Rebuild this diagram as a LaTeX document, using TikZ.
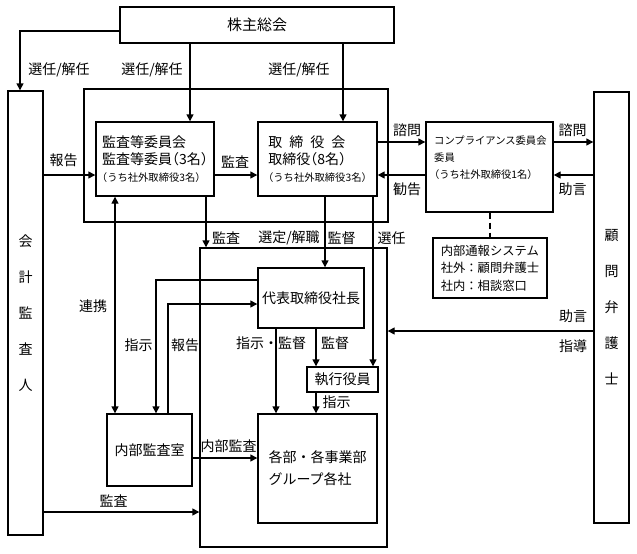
\documentclass[tikz,border=0pt]{standalone}
\usepackage{fontspec}
\setmainfont{Noto Sans CJK JP}
\newfontfamily\jph{Noto Sans CJK JP}[RawFeature=+halt]
\usetikzlibrary{arrows.meta}
\begin{document}
\begin{tikzpicture}[x=1pt,y=-1pt,
  every node/.style={font=\fontsize{14}{17}\selectfont},
  box/.style={draw,line width=1.4pt,inner sep=0pt},
  arr/.style={line width=1.4pt,-{Triangle[length=7pt,width=7pt]}},
  darr/.style={line width=1.4pt,{Triangle[length=7pt,width=7pt]}-{Triangle[length=7pt,width=7pt]}},
  ln/.style={line width=1.4pt},
  lbl/.style={inner sep=0pt},
  small/.style={font=\fontsize{10.3}{17}\selectfont}
]
\useasboundingbox (0,0) rectangle (637,554);

% boxes
\node[box,minimum width=274pt,minimum height=36pt,font=\fontsize{15}{17}\selectfont] (sh) at (257,25) {株主総会};
\node[box,minimum width=35pt,minimum height=444pt,align=center,font=\fontsize{14}{36}\selectfont] (aud) at (25.5,313) {会\\計\\監\\査\\人};
\node[box,minimum width=35pt,minimum height=431pt,align=center,font=\fontsize{14}{36}\selectfont] (law) at (611.5,307.5) {顧\\問\\弁\\護\\士};
\node[box,minimum width=304pt,minimum height=133pt] (bd) at (236,155.5) {};
\node[box,minimum width=118pt,minimum height=74pt,align=left] (ac) at (155,159)
  {監査等委員会\\監査等委員{\jph（3名）}\\{\fontsize{10.3}{17}\selectfont\jph（うち社外取締役3名）}};
\node[box,minimum width=119pt,minimum height=74pt,align=left] (bod) at (317.5,159)
  {取\hspace{7pt}締\hspace{7pt}役\hspace{7pt}会\\取締役{\jph（8名）}\\{\fontsize{10.3}{17}\selectfont\jph（うち社外取締役3名）}};
\node[box,minimum width=127pt,minimum height=90pt] (cc) at (489.5,167) {};
\node[lbl,anchor=west,align=left,small] (cct) at (434,158)
  {コンプライアンス委員会\\委員\\{\jph（うち社外取締役1名）}};
\node[box,minimum width=114pt,minimum height=60pt,align=left,font=\fontsize{12.3}{17.5}\selectfont] (wb) at (490,268)
  {内部通報システム\\社外：顧問弁護士\\社内：相談窓口};
\node[box,minimum width=187pt,minimum height=299pt] (ex) at (293.5,397.5) {};
\node[box,minimum width=106pt,minimum height=60pt] (ceo) at (311,298) {代表取締役社長};
\node[box,minimum width=71pt,minimum height=25pt] (eo) at (342.5,379.5) {執行役員};
\node[box,minimum width=119pt,minimum height=109pt,align=left,font=\fontsize{14}{22}\selectfont] (dept) at (317.5,468.5)
  {各部・各事業部\\グループ各社};
\node[box,minimum width=85pt,minimum height=72pt] (ia) at (149.5,450) {内部監査室};

% connectors
\draw[arr] (sh.west |- 0,31) -| (aud.north -| 20,0);
\draw[arr] (sh.south -| 190,0) -- (ac.north -| 190,0);
\draw[arr] (sh.south -| 343,0) -- (bod.north -| 343,0);
\draw[arr] (aud.east |- 0,175) -- (ac.west |- 0,175);
\draw[arr] (ac.east |- 0,175) -- (bod.west |- 0,175);
\draw[arr] (bod.east |- 0,142) -- (cc.west |- 0,142);
\draw[arr] (cc.west |- 0,175) -- (bod.east |- 0,175);
\draw[arr] (cc.east |- 0,142) -- (law.west |- 0,142);
\draw[arr] (law.west |- 0,175) -- (cc.east |- 0,175);
\draw[ln,dashed,dash pattern=on 6pt off 4pt] (cc.south -| wb.north) -- (wb.north);
\draw[arr] (ac.south -| 206,0) -- (ex.north -| 206,0);
\draw[arr] (bod.south -| 325,0) -- (ceo.north -| 325,0);
\draw[arr] (bod.south -| 373,0) -- (eo.north -| 373,0);
\draw[darr] (ac.south -| 115,0) -- (ia.north -| 115,0);
\draw[arr] (ceo.west |- 0,280) -| (ia.north -| 156,0);
\draw[arr] (ia.north -| 168,0) |- (ceo.west |- 0,304);
\draw[arr] (ceo.south -| 276,0) -- (dept.north -| 276,0);
\draw[arr] (ceo.south -| 316,0) -- (eo.north -| 316,0);
\draw[arr] (eo.south -| 316,0) -- (dept.north -| 316,0);
\draw[arr] (ia.east |- 0,458) -- (dept.west |- 0,458);
\draw[arr] (aud.east |- 0,512) -- (ex.west |- 0,512);
\draw[arr] (law.west |- 0,331) -- (ex.east |- 0,331);

% labels
\node[lbl] (t1) at (59,70) {選任/解任};
\node[lbl] (t2) at (152,70) {選任/解任};
\node[lbl] (t3) at (299,70) {選任/解任};
\node[lbl] (t4) at (63.5,160) {報告};
\node[lbl] (t5) at (235,162) {監査};
\node[lbl] (t6) at (407,130) {諮問};
\node[lbl] (t7) at (407,189) {勧告};
\node[lbl] (t8) at (572.5,130) {諮問};
\node[lbl] (t9) at (572.5,189) {助言};
\node[lbl] (t10) at (226,238) {監査};
\node[lbl] (t11) at (289,238) {選定/解職};
\node[lbl] (t12) at (341.5,238) {監督};
\node[lbl] (t13) at (391.5,238) {選任};
\node[lbl] (t14) at (93,306) {連携};
\node[lbl] (t15) at (138.5,345) {指示};
\node[lbl] (t16) at (185,345) {報告};
\node[lbl] (t17) at (271,343) {指示・監督};
\node[lbl] (t18) at (335,343) {監督};
\node[lbl] (t19) at (336.5,402) {指示};
\node[lbl] (t20) at (228.5,446) {内部監査};
\node[lbl] (t21) at (113.5,501) {監査};
\node[lbl] (t22) at (573,316) {助言};
\node[lbl] (t23) at (573,346) {指導};
\end{tikzpicture}
\end{document}
